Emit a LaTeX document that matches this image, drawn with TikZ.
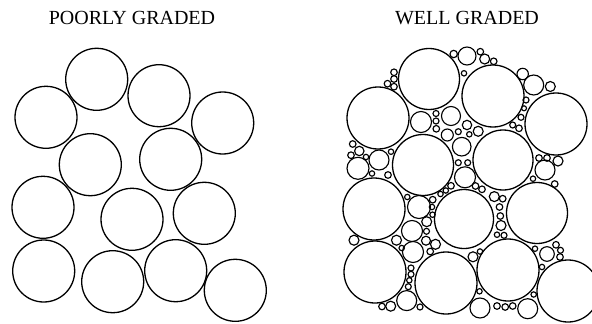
\documentclass[tikz,border=0pt]{standalone}
\usepackage{fontspec}
\setmainfont{Liberation Serif}
\begin{document}
\begin{tikzpicture}[x=1pt,y=-1pt,line width=1.3pt,
  titletext/.style={font=\fontsize{20}{22}\selectfont,inner sep=0pt,anchor=base}]
\useasboundingbox (0,0) rectangle (592,324);
\node[titletext] (t1) at (132,24) {POORLY GRADED};
\node[titletext] (t2) at (467,24) {WELL GRADED};
% poorly graded
\foreach \x/\y in {96.7/79.3, 46/117.3, 159/95.7, 222.7/123, 90.3/164.7, 170.7/159.3,
  43/207.3, 132/219.3, 204.3/213.3, 43.7/271, 112.7/281.7, 175.7/270.7, 235.3/290.3}
  \draw (\x,\y) circle[radius=31pt];
% well graded - large
\foreach \x/\y/\r in {429/79/30.5, 378/118/31, 493/96/31, 556/124/31, 423/165/30.5,
  503/160/30, 374/209/31, 464/219/29.5, 537/213/30.5, 375/272/31, 446/283/31,
  508/270/31, 568/291/31}
  \draw (\x,\y) circle[radius=\r pt];
% well graded - medium and small
\begin{scope}[line width=1.15pt]
\foreach \x/\y/\r in {
  467/56/9, 453.7/54/3.7, 464/73.3/2.7,
  480.3/51.7/3.3, 484.7/59/5, 493.7/61.3/3.3,
  522.7/74/5.7, 533.7/85/10, 550.3/86.5/5,
  526/100/3, 524/108.3/2.5, 521/117.3/3, 512.7/125/3, 519/128.3/3.3,
  394/72.3/3.3, 394/79/3.3, 387.5/83.7/3.3, 394/86.7/3.3,
  421/122/10.5, 451/116/9.5, 436/113.5/3, 436/121/3, 436.3/128.8/3.3,
  447.3/135/6, 458.3/131.7/3, 467/125/4.7, 469.3/134.3/2.7, 478.2/131.3/5,
  461.7/146.7/9.3, 458.3/162.7/3, 467.7/162.7/3, 465/177.3/10.5,
  352.7/144/3.3, 359.3/151/4.7, 351/155.2/3.3, 366/157/2.7, 379/160/10, 358/168.3/11,
  391/151.7/2.7, 372/173.5/2.7, 388/175/3.3,
  419/207/11.5, 407.3/197/2.7, 432.7/199.7/3.3, 432/207/2.7, 432.5/214.7/2.7,
  440.5/194/2.7, 445.8/190.5/2.7, 451/185.8/3.3,
  426.7/221.7/5, 426.5/231.3/3, 426/240.7/4.5, 435.5/244.3/5, 430.2/251.5/3.3,
  412/231/10.5, 413/252/10.5, 354/240.2/5, 396.5/240.2/5, 401.7/248/2.7,
  411/268/3, 411/274.3/3, 409.3/280.3/2.7, 408.3/286.7/3,
  406.7/300.6/10, 382/306.5/3.3, 390.7/306.2/5, 420/307/3,
  475.5/186/3.3, 482/189.3/3.3, 494.3/196.6/5, 502.7/198.7/3.3, 499.5/207/3.3,
  500.3/216/3.3, 501/225.5/5, 497/234.7/2.7, 504/235.3/3,
  473/256.8/5, 480/251.5/2.7,
  535/248.7/2.7, 547/254/7.3, 556/244.8/3.3, 560.5/250.3/3, 560/257/3.3, 542/267/2.7,
  480/308/10, 497/306/3.3, 505.2/307/3.3, 512.7/306/3.3, 527.7/308.7/10,
  533.7/294.5/2.7, 479.5/291.3/2.7,
  539/158/3.3, 547/158/3.3, 558/161/5, 545/170/10, 554.7/184/3.3, 533/178.7/2.7}
  \draw (\x,\y) circle[radius=\r pt];
\end{scope}
\end{tikzpicture}
\end{document}
